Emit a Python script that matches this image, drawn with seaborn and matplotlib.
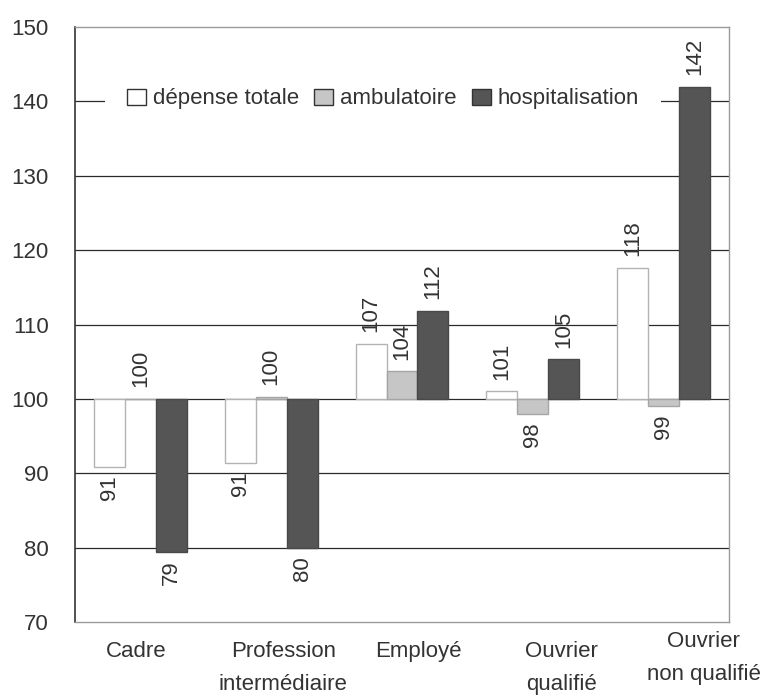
import pandas as pd
import matplotlib
matplotlib.use("Agg")
import matplotlib.pyplot as plt
import matplotlib.transforms as mtransforms
from matplotlib.patches import Patch
import seaborn as sns

# Data (indice, base 100)
categories = ["Cadre", "Profession\nintermédiaire", "Employé", "Ouvrier\nqualifié", "Ouvrier\nnon qualifié"]
series = ["dépense totale", "ambulatoire", "hospitalisation"]
depense_totale = [90.8, 91.4, 107.4, 101.0, 117.6]
ambulatoire = [100.0, 100.3, 103.7, 98.0, 99.0]
hospitalisation = [79.4, 80.0, 111.8, 105.3, 142.0]
base = 100
y_ticks = [70, 80, 90, 100, 110, 120, 130, 140, 150]

face_colors = {"dépense totale": "#ffffff", "ambulatoire": "#c6c6c6", "hospitalisation": "#555555"}
edge_colors = {"dépense totale": "#b3b3b3", "ambulatoire": "#a6a6a6", "hospitalisation": "#484848"}
text_color = "#333333"
fs = 16

sns.set_style("white")
plt.rcParams["font.family"] = ["Liberation Sans", "DejaVu Sans"]

rows = []
for name, vals in zip(series, [depense_totale, ambulatoire, hospitalisation]):
    for cat, v in zip(categories, vals):
        rows.append({"categorie": cat, "serie": name, "ecart": v - base, "valeur": v})
df = pd.DataFrame(rows)

fig = plt.figure(figsize=(7.63, 6.97), dpi=100)
ax = fig.add_axes([75 / 763, 1 - 622 / 697, 654 / 763, 595 / 697])

sns.barplot(data=df, x="categorie", y="ecart", hue="serie", order=categories,
            hue_order=series, palette=face_colors, width=0.71, bottom=base,
            legend=False, ax=ax)

# style bars + value labels (rotated, above or below the bar end)
for name, cont in zip(series, ax.containers):
    vals = df[df["serie"] == name].set_index("categorie").loc[categories, "valeur"]
    for bar, v in zip(cont, vals):
        bar.set_facecolor(face_colors[name])
        bar.set_edgecolor(edge_colors[name])
        bar.set_linewidth(1.0)
        xc = bar.get_x() + bar.get_width() / 2
        if v >= base:
            ax.annotate(f"{v:.0f}", (xc, v), xytext=(0, 8.5), textcoords="offset points",
                        rotation=90, ha="center", va="bottom", fontsize=fs, color=text_color)
        else:
            ax.annotate(f"{v:.0f}", (xc, v), xytext=(0, -6), textcoords="offset points",
                        rotation=90, ha="center", va="top", fontsize=fs, color=text_color)

ax.set_ylim(70, 150)
ax.set_yticks(y_ticks)
ax.set_xlim(-0.5, len(categories) - 0.5)
ax.set_xlabel("")
ax.set_ylabel("")
ax.set_axisbelow(True)
ax.yaxis.grid(True, color="#2a2a2a", linewidth=0.9)
gl = ax.yaxis.get_gridlines()
gl[0].set_visible(False)
gl[-1].set_visible(False)

ax.tick_params(axis="y", length=0, pad=19, labelsize=fs, labelcolor=text_color)
ax.tick_params(axis="x", length=0, pad=14, labelsize=fs, labelcolor=text_color)
for lab in ax.get_xticklabels():
    lab.set_linespacing(1.75)

# nudge x labels like in the original layout
dx = [-4, 12, 16, 29, 40]
dy = [0, 0, 0, 0, 10]
for lab, ox, oy in zip(ax.get_xticklabels(), dx, dy):
    off = mtransforms.ScaledTranslation(ox / 100, oy / 100, fig.dpi_scale_trans)
    lab.set_transform(lab.get_transform() + off)

for side in ["top", "right", "bottom"]:
    ax.spines[side].set_color("#9a9a9a")
    ax.spines[side].set_linewidth(1.0)
ax.spines["left"].set_color("#333333")
ax.spines["left"].set_linewidth(1.2)

handles = [Patch(facecolor=face_colors[s], edgecolor="#333333", linewidth=1) for s in series]
ax.legend(handles, series, loc="center", bbox_to_anchor=(0.471, 0.879), ncol=3,
          frameon=True, facecolor="white", edgecolor="none", framealpha=1,
          fancybox=False, handlelength=0.85, handleheight=0.75, handletextpad=0.3,
          columnspacing=0.7, borderpad=1.0, borderaxespad=0, fontsize=fs,
          labelcolor=text_color)

fig.savefig("out.png", dpi=100)
